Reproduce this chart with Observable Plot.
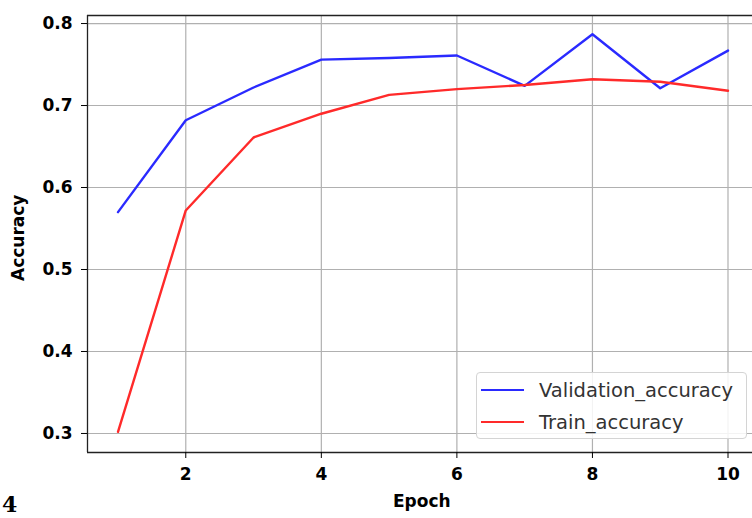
<!DOCTYPE html>
<html>
<head>
<meta charset="utf-8">
<script src="https://cdn.jsdelivr.net/npm/d3@7"></script>
<script src="https://cdn.jsdelivr.net/npm/@observablehq/plot@0.6"></script>
<style>
  html, body { margin: 0; padding: 0; background: #fff; overflow: hidden; }
  #wrap { position: relative; width: 752px; height: 518px; overflow: hidden; }
  #chart { width: 758px; }
  #chart svg { max-width: none !important; }
  .lbl { position: absolute; font-family: "DejaVu Sans", sans-serif; font-weight: bold; font-size: 17px; color: #000; white-space: nowrap; }
  #legend { position: absolute; left: 476px; top: 372px; width: 271px; height: 67px; border: 1px solid #d4d4d4; border-radius: 4px; background: rgba(255,255,255,0.85); box-sizing: border-box; font-family: "DejaVu Sans", sans-serif; font-size: 19.5px; color: #333; }
  .row { position: absolute; left: 4px; height: 24px; display: flex; align-items: center; }
  .sw { width: 43px; height: 2.5px; margin-right: 15px; }
</style>
</head>
<body>
<div id="wrap">
  <div id="chart"></div>
  <div class="lbl" style="left:393px; top:491px;">Epoch</div>
  <div class="lbl" style="left:8px; top:281px; transform: rotate(-90deg); transform-origin: 0 0;">Accuracy</div>
  <div style="position:absolute; left:2px; top:494px; font-family:'DejaVu Serif', serif; font-weight:bold; font-size:22px; line-height:20px; color:#000;">4</div>
  <div id="legend">
    <div class="row" style="top:5px;"><div class="sw" style="background:#2a2aff;"></div><span>Validation_accuracy</span></div>
    <div class="row" style="top:37px;"><div class="sw" style="background:#ff2a2a;"></div><span>Train_accuracy</span></div>
  </div>
</div>
<script>
const epochs = [1, 2, 3, 4, 5, 6, 7, 8, 9, 10];
const validationAccuracy = [0.570, 0.682, 0.722, 0.756, 0.758, 0.761, 0.724, 0.787, 0.721, 0.767];
const trainAccuracy = [0.302, 0.572, 0.661, 0.690, 0.713, 0.720, 0.725, 0.732, 0.729, 0.718];
const xTicks = [2, 4, 6, 8, 10];
const yTicks = [0.3, 0.4, 0.5, 0.6, 0.7, 0.8];

const val = epochs.map((e, i) => ({epoch: e, acc: validationAccuracy[i]}));
const train = epochs.map((e, i) => ({epoch: e, acc: trainAccuracy[i]}));

const xDomain = [0.55, 10.45];
const yDomain = [0.2768, 0.8098];

const chart = Plot.plot({
  width: 758,
  height: 518,
  marginLeft: 87,
  marginRight: 0,
  marginTop: 15,
  marginBottom: 66,
  style: {fontFamily: "DejaVu Sans, sans-serif", fontSize: "17px", fontWeight: "bold", background: "transparent", color: "#000", maxWidth: "none"},
  x: {domain: xDomain},
  y: {domain: yDomain},
  marks: [
    Plot.gridX(xTicks, {stroke: "#b0b0b0", strokeOpacity: 1, strokeWidth: 1.2}),
    Plot.gridY(yTicks, {stroke: "#b0b0b0", strokeOpacity: 1, strokeWidth: 1.2}),
    Plot.line(val, {x: "epoch", y: "acc", stroke: "#2a2aff", strokeWidth: 2.4}),
    Plot.line(train, {x: "epoch", y: "acc", stroke: "#ff2a2a", strokeWidth: 2.4}),
    Plot.ruleX([xDomain[0]], {stroke: "#222", strokeWidth: 1.3}),
    Plot.ruleY([yDomain[0], yDomain[1]], {stroke: "#222", strokeWidth: 1.3}),
    Plot.axisX({ticks: xTicks, tickFormat: d3.format("d"), tickSize: 6, tickPadding: 9, label: null}),
    Plot.axisY({ticks: yTicks, tickFormat: d3.format(".1f"), tickSize: 6, tickPadding: 9, label: null})
  ]
});
document.getElementById("chart").appendChild(chart);
</script>
</body>
</html>
